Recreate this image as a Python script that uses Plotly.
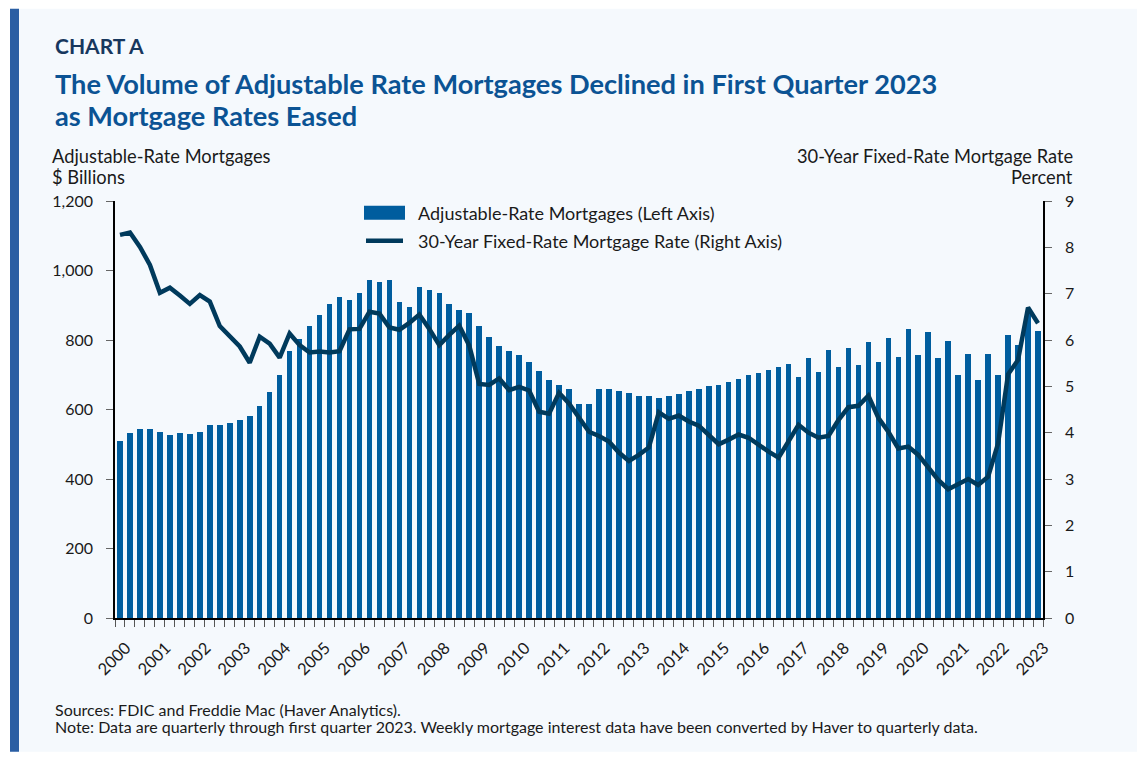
import plotly.graph_objects as go

# ---------------- data ----------------
years = list(range(2000, 2024))
quarters = [f"{y}Q{q}" for y in range(2000, 2023) for q in range(1, 5)] + ["2023Q1"]

arm_billions = [
    509, 533, 545, 544, 535, 527, 533, 530, 535, 556, 554, 561, 569, 582, 611, 651,
    700, 767, 803, 840, 872, 904, 925, 916, 936, 974, 968, 974, 909, 895, 953, 945,
    934, 903, 887, 878, 840, 809, 783, 768, 756, 737, 710, 685, 670, 659, 616, 616,
    660, 660, 653, 647, 640, 638, 632, 639, 644, 652, 659, 668, 671, 680, 688, 699,
    704, 715, 723, 731, 694, 749, 709, 772, 722, 776, 729, 794, 738, 807, 752, 833,
    757, 824, 747, 798, 700, 760, 686, 760, 700, 814, 785, 880, 827,
]

rate_30yr = [
    8.27, 8.32, 8.01, 7.62, 7.02, 7.13, 6.96, 6.78, 6.97, 6.83, 6.30, 6.09, 5.86, 5.51, 6.07, 5.92,
    5.62, 6.14, 5.89, 5.73, 5.75, 5.73, 5.76, 6.23, 6.24, 6.61, 6.57, 6.27, 6.22, 6.37, 6.55, 6.24,
    5.89, 6.11, 6.31, 5.88, 5.05, 5.03, 5.17, 4.92, 4.99, 4.91, 4.45, 4.41, 4.86, 4.63, 4.31, 4.02,
    3.93, 3.81, 3.57, 3.39, 3.52, 3.68, 4.44, 4.30, 4.37, 4.24, 4.15, 3.96, 3.75, 3.85, 3.96, 3.89,
    3.73, 3.59, 3.46, 3.81, 4.17, 4.00, 3.89, 3.93, 4.27, 4.55, 4.58, 4.80, 4.32, 4.02, 3.66, 3.70,
    3.52, 3.25, 2.98, 2.78, 2.89, 3.00, 2.87, 3.05, 3.77, 5.26, 5.57, 6.70, 6.36,
]

left_ticks = [0, 200, 400, 600, 800, 1000, 1200]
left_ticktext = ["0", "200", "400", "600", "800", "1,000", "1,200"]
right_ticks = list(range(0, 10))

# numeric quarter position
xq = [int(s[:4]) + (int(s[-1]) - 1) / 4 for s in quarters]

# ---------------- styling ----------------
FONT = "Source Sans Pro, Lato, sans-serif"
BAR_COLOR = "#005d9e"
LINE_COLOR = "#003a5c"
TEXT = "#1a1a1a"
W, H = 1145, 758
OFF = 8  # page body margin
L, R, T, B = 107, 1035, 193.3, 610.3  # plot area in figure pixels


def px(x):  # page pixel -> paper
    return (x - OFF - L) / (R - L)


def py(y):
    return (B - (y - OFF)) / (B - T)


fig = go.Figure()
fig.add_trace(go.Bar(
    x=xq, y=arm_billions, width=0.14, marker=dict(color=BAR_COLOR, line=dict(width=0)),
    name="Adjustable-Rate Mortgages (Left Axis)", showlegend=False,
))
fig.add_trace(go.Scatter(
    x=xq, y=rate_30yr, yaxis="y2", mode="lines",
    line=dict(color=LINE_COLOR, width=4.5),
    name="30-Year Fixed-Rate Mortgage Rate (Right Axis)", showlegend=False,
))

shapes = [
    dict(type="rect", xref="paper", yref="paper", x0=px(10), x1=px(1138), y0=py(752), y1=py(9),
         fillcolor="#f5f9fd", line=dict(width=0), layer="below"),
    dict(type="rect", xref="paper", yref="paper", x0=px(10), x1=px(19), y0=py(752), y1=py(9),
         fillcolor="#2a5ea3", line=dict(width=0), layer="below"),
    # legend keys
    dict(type="rect", xref="paper", yref="paper", x0=px(364), x1=px(405), y0=py(220), y1=py(206),
         fillcolor=BAR_COLOR, line=dict(width=0)),
    dict(type="line", xref="paper", yref="paper", x0=px(366), x1=px(403), y0=py(241), y1=py(241),
         line=dict(color=LINE_COLOR, width=4.5)),
]

annotations = [
    dict(text="<b>CHART A</b>", x=px(53), y=py(46), font=dict(size=21, color="#17375e")),
    dict(text="<b>The Volume of Adjustable Rate Mortgages Declined in First Quarter 2023</b>",
         x=px(53), y=py(84), font=dict(size=27.2, color="#0b5394")),
    dict(text="<b>as Mortgage Rates Eased</b>", x=px(53), y=py(116), font=dict(size=27.2, color="#0b5394")),
    dict(text="Adjustable-Rate Mortgages", x=px(50), y=py(156), font=dict(size=18.3, color=TEXT)),
    dict(text="$ Billions", x=px(50), y=py(177), font=dict(size=18.3, color=TEXT)),
    dict(text="30-Year Fixed-Rate Mortgage Rate", x=px(1075), y=py(156), xanchor="right",
         font=dict(size=18.3, color=TEXT)),
    dict(text="Percent", x=px(1075), y=py(177), xanchor="right", font=dict(size=18.3, color=TEXT)),
    dict(text="Adjustable-Rate Mortgages (Left Axis)", x=px(416), y=py(213), font=dict(size=18, color=TEXT)),
    dict(text="30-Year Fixed-Rate Mortgage Rate (Right Axis)", x=px(416), y=py(241),
         font=dict(size=18, color=TEXT)),
    dict(text="Sources: FDIC and Freddie Mac (Haver Analytics).", x=px(53), y=py(710),
         font=dict(size=16, color=TEXT)),
    dict(text="Note: Data are quarterly through first quarter 2023. Weekly mortgage interest data have been "
              "converted by Haver to quarterly data.", x=px(53), y=py(727), font=dict(size=16, color=TEXT)),
]
for a in annotations:
    a.setdefault("xanchor", "left")
    a.update(xref="paper", yref="paper", yanchor="middle", showarrow=False)

fig.update_layout(
    width=W, height=H,
    margin=dict(l=L, r=W - R, t=T, b=H - B, pad=0),
    paper_bgcolor="white", plot_bgcolor="rgba(0,0,0,0)",
    font=dict(family=FONT, color=TEXT, size=16),
    showlegend=False, bargap=0,
    shapes=shapes, annotations=annotations,
    xaxis=dict(
        range=[1999.875, 2023.125], tickvals=years, ticktext=[str(y) for y in years],
        tickangle=-45, ticks="", showgrid=False, zeroline=False,
        showline=True, linecolor="black", linewidth=1.5,
        ticklabelshift=6, ticklabelstandoff=12,
        tickfont=dict(size=16.5, color=TEXT),
        minor=dict(ticks="outside", tick0=1999.875, dtick=0.25, ticklen=7, tickcolor="#555", tickwidth=1,
                   showgrid=False),
    ),
    yaxis=dict(
        range=[0, 1200], tickvals=left_ticks, ticktext=left_ticktext,
        ticks="outside", ticklen=7, tickcolor="#666", showgrid=False, zeroline=False,
        showline=True, linecolor="black", linewidth=1.5, ticklabelstandoff=10,
        tickfont=dict(size=16, color=TEXT),
    ),
    yaxis2=dict(
        range=[0, 9], tickvals=right_ticks, overlaying="y", side="right",
        ticks="outside", ticklen=7, tickcolor="#666", showgrid=False, zeroline=False,
        showline=True, linecolor="black", linewidth=1.5, ticklabelstandoff=10,
        tickfont=dict(size=16, color=TEXT),
    ),
)

fig.write_html("out.html")
